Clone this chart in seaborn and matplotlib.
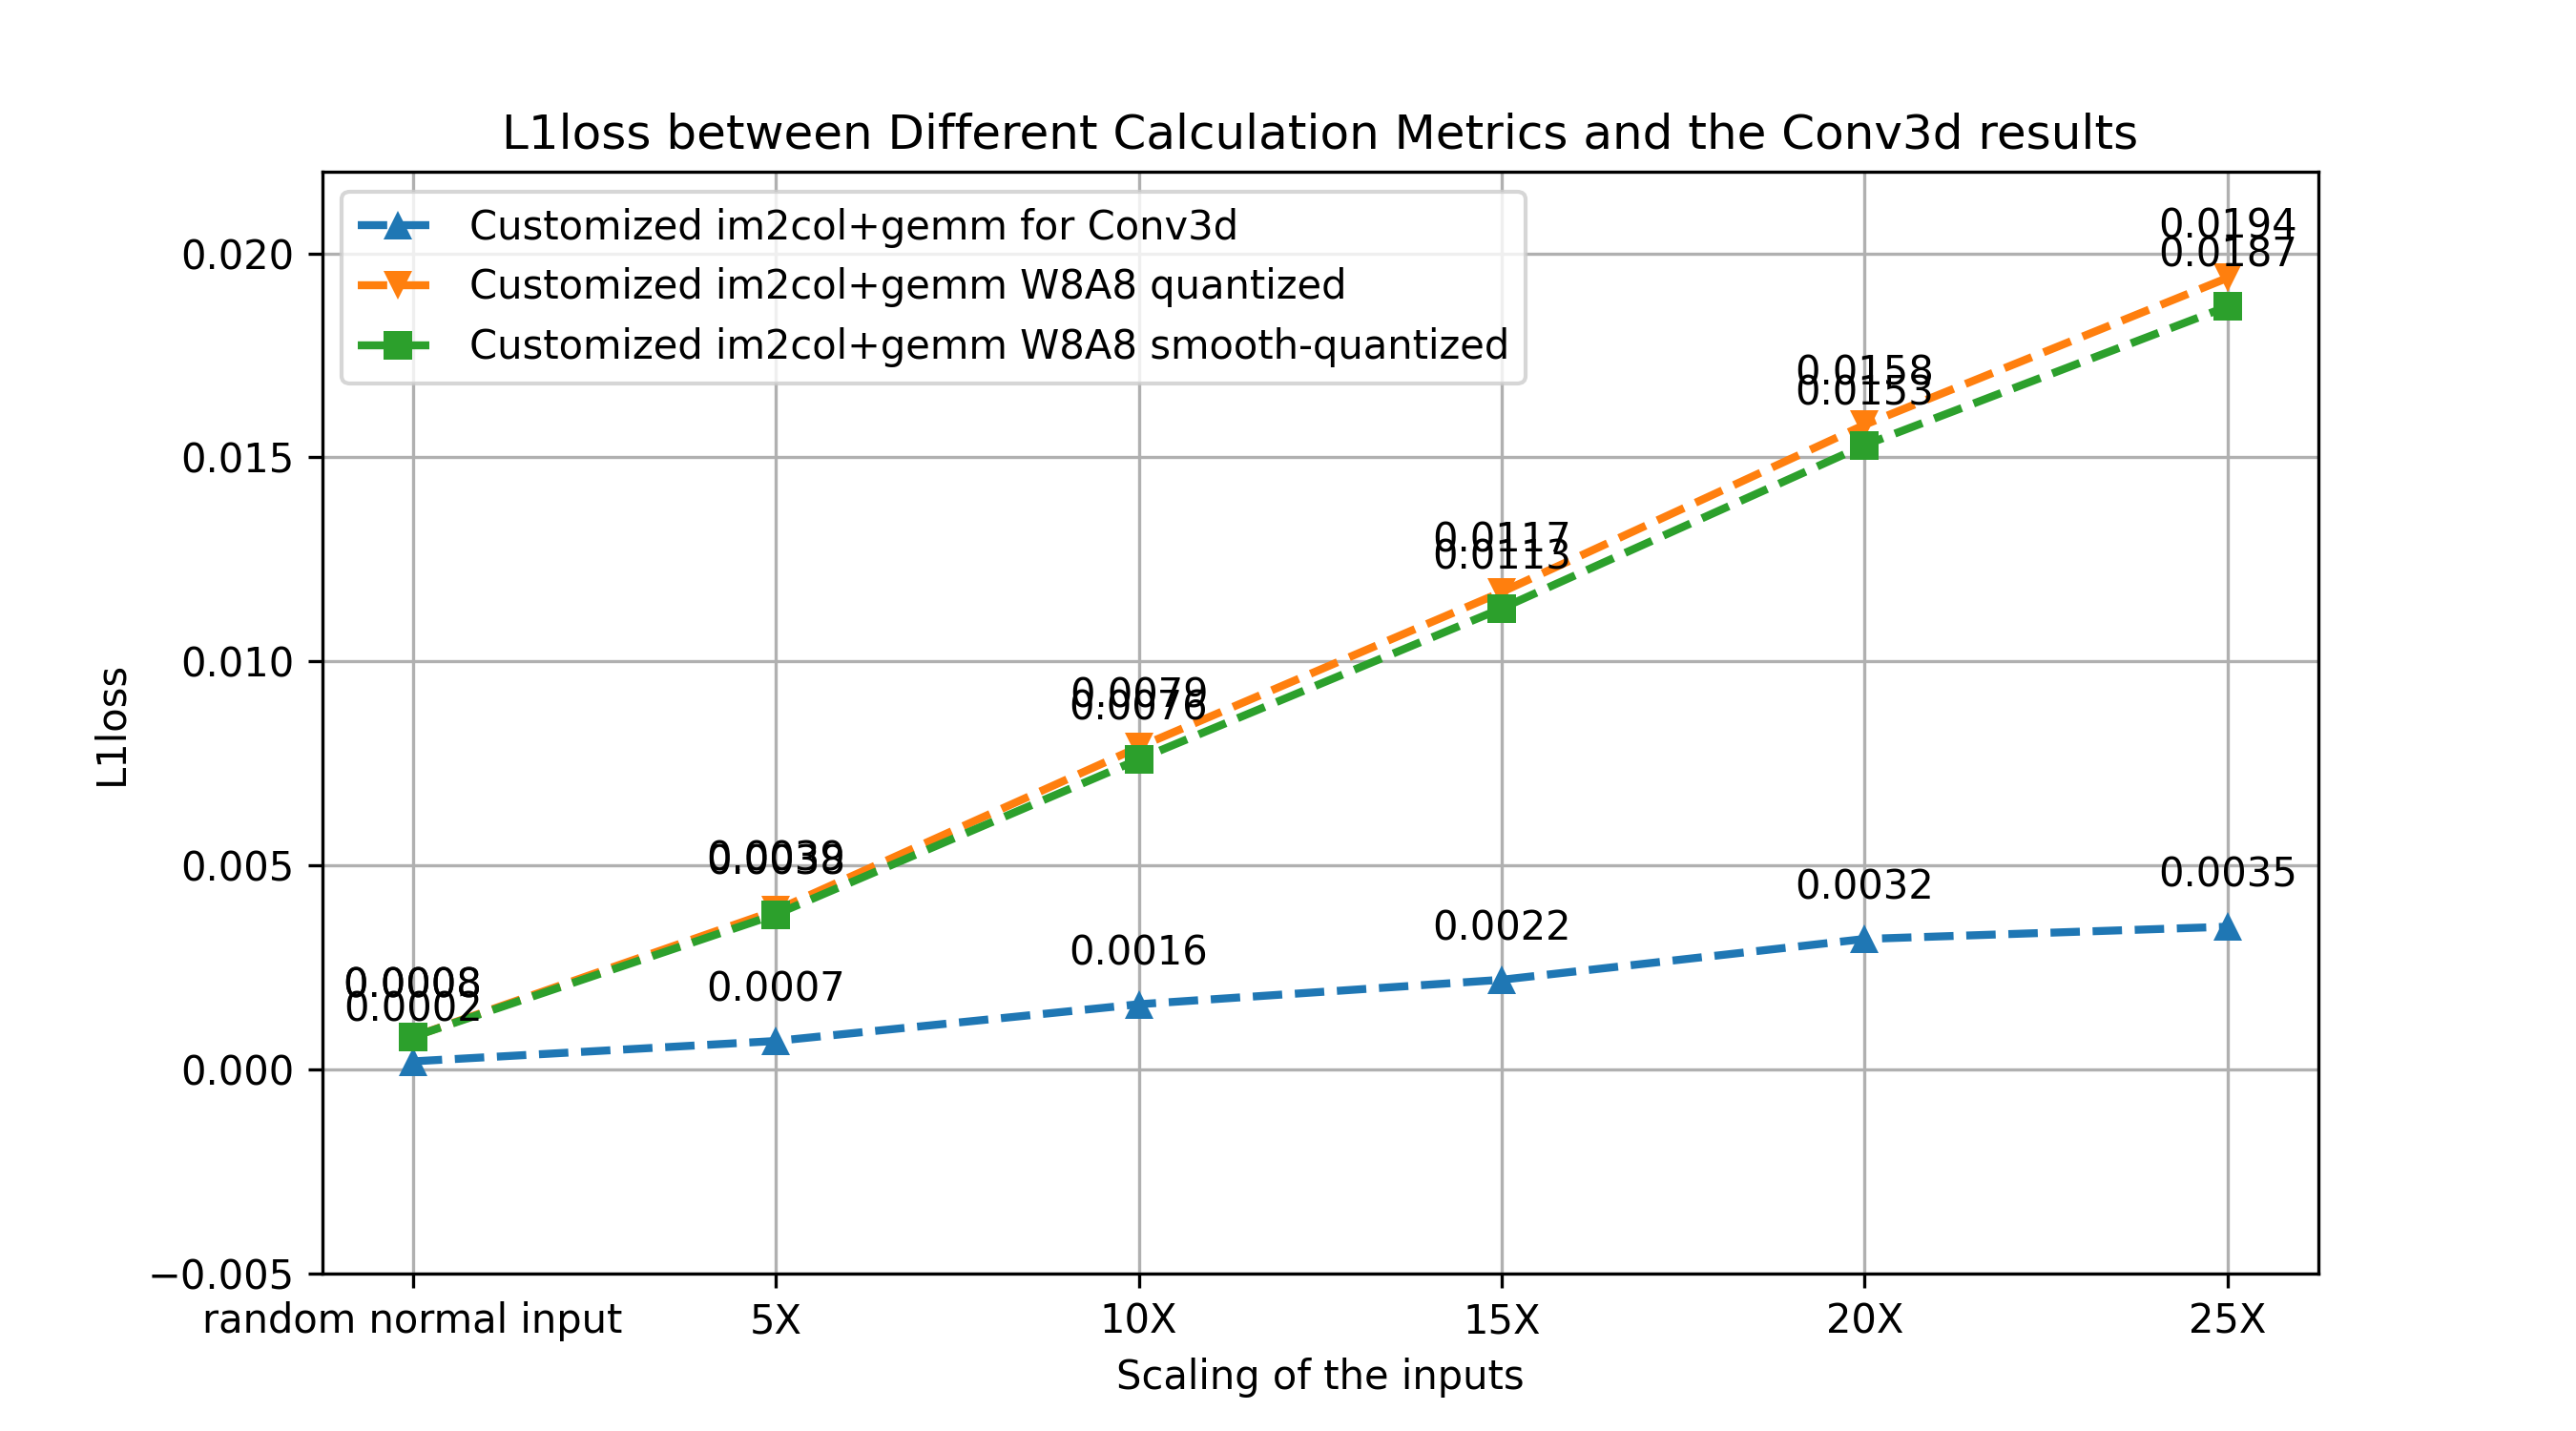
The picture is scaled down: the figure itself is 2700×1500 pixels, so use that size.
import matplotlib

matplotlib.use("Agg")
import matplotlib.pyplot as plt
import numpy as np
import seaborn as sns

scales = ["random normal input", "5X", "10X", "15X", "20X", "25X"]
conv_loss = [0.0002, 0.0007, 0.0016, 0.0022, 0.0032, 0.0035]
w8a8_loss = [0.0008, 0.0039, 0.0079, 0.0117, 0.0158, 0.0194]
smooth_loss = [0.0008, 0.0038, 0.0076, 0.0113, 0.0153, 0.0187]

series = [
    ("Customized im2col+gemm for Conv3d", conv_loss, "^", "#1f77b4"),
    ("Customized im2col+gemm W8A8 quantized", w8a8_loss, "v", "#ff7f0e"),
    ("Customized im2col+gemm W8A8 smooth-quantized", smooth_loss, "s", "#2ca02c"),
]

fig, ax = plt.subplots(figsize=(9, 5), dpi=300)
x = np.arange(len(scales))
for label, values, marker, color in series:
    sns.lineplot(
        x=x, y=values, ax=ax, label=label, marker=marker, color=color,
        linestyle="--", linewidth=2, markersize=7, markeredgewidth=0,
    )
    for xi, v in zip(x, values):
        ax.annotate(f"{v:.4f}", (xi, v), textcoords="offset points", xytext=(0, 10), ha="center")

ax.set_xticks(x)
ax.set_xticklabels(scales)
ax.set_ylim(-0.005, 0.022)
ax.set_xlabel("Scaling of the inputs")
ax.set_ylabel("L1loss")
ax.set_title("L1loss between Different Calculation Metrics and the Conv3d results")
ax.grid(True)
ax.legend(loc="upper left")
fig.savefig("out.png", dpi=300)
plt.close(fig)
